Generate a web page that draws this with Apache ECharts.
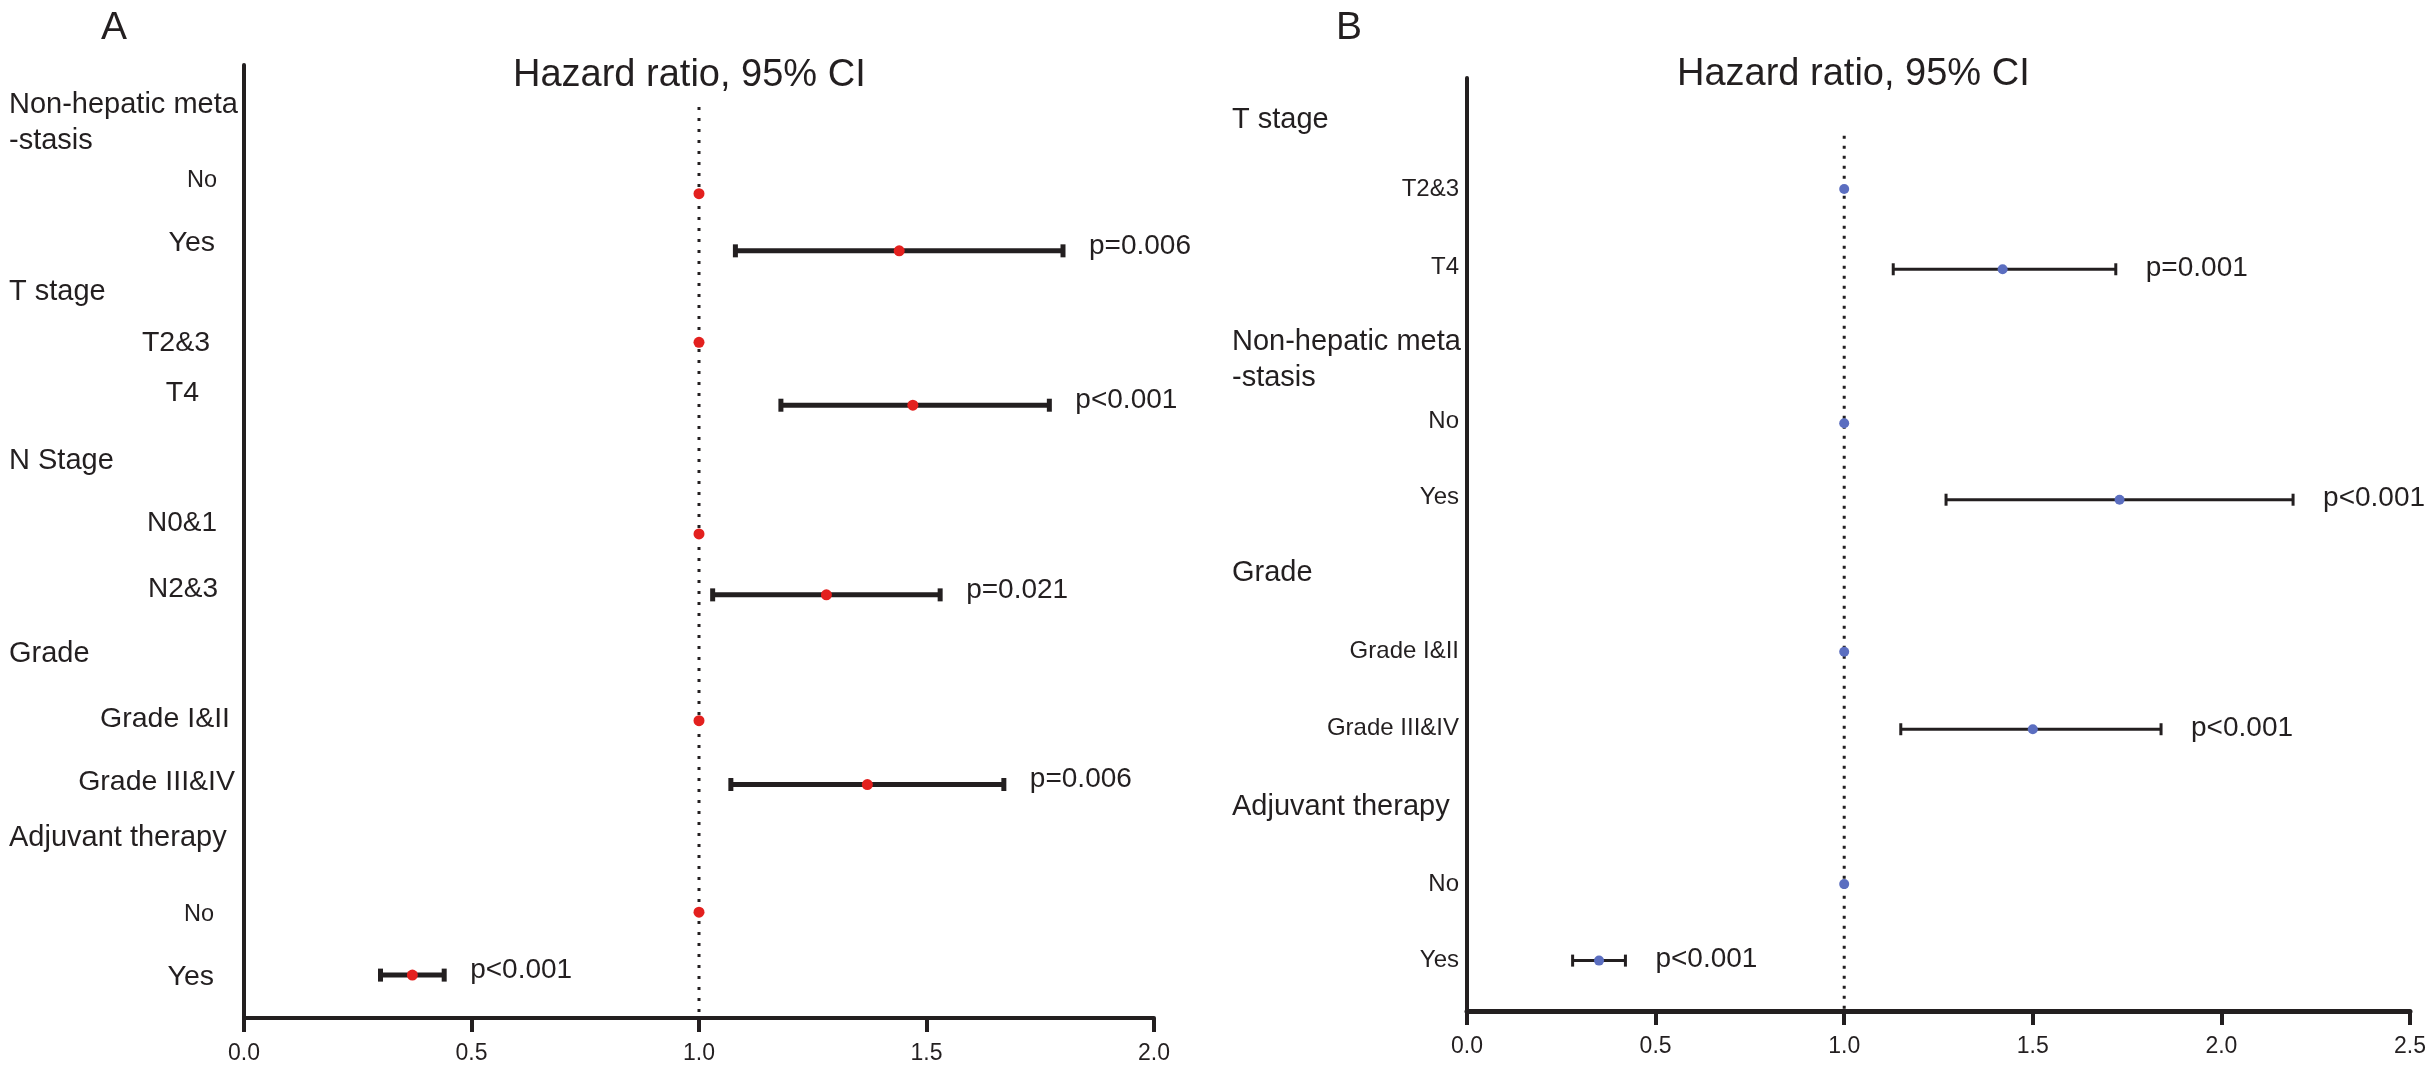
<!DOCTYPE html>
<html lang="en">
<head>
<meta charset="UTF-8">
<title>Hazard ratio, 95% CI</title>
<style>
  html, body { margin: 0; padding: 0; background: #fff; }
  #main { width: 2432px; height: 1073px; }
</style>
</head>
<body>
<div id="main"></div>
<script src="https://cdn.jsdelivr.net/npm/echarts@6/dist/echarts.min.js"></script>
<script>
// ---- panel A data ----
var labelsA = ['Non-hepatic meta\n-stasis', 'No', 'Yes', 'T stage', 'T2&3', 'T4', 'N Stage', 'N0&1', 'N2&3',
    'Grade', 'Grade I&II', 'Grade III&IV', 'Adjuvant therapy', 'No', 'Yes'];
var headerA = [1, 0, 0, 1, 0, 0, 1, 0, 0, 1, 0, 0, 1, 0, 0];
var labelRowA = [6.1, 12.1, 18.7, 23.8, 29.2, 34.4, 41.6, 48.1, 55.0, 61.8, 68.6, 75.3, 81.1, 89.1, 95.7];
var rowA = [13.5, 19.5, 29.1, 35.7, 49.2, 55.6, 68.8, 75.5, 88.9, 95.5];
var hrA = [1, 1.44, 1, 1.47, 1, 1.28, 1, 1.37, 1, 0.37];
var lowA = [null, 1.08, null, 1.18, null, 1.03, null, 1.07, null, 0.30];
var highA = [null, 1.80, null, 1.77, null, 1.53, null, 1.67, null, 0.44];
var pA = ['', 'p=0.006', '', 'p<0.001', '', 'p=0.021', '', 'p=0.006', '', 'p<0.001'];
var refStartA = 4.4;

// ---- panel B data ----
var labelsB = ['T stage', 'T2&3', 'T4', 'Non-hepatic meta\n-stasis', 'No', 'Yes', 'Grade', 'Grade I&II',
    'Grade III&IV', 'Adjuvant therapy', 'No', 'Yes'];
var headerB = [1, 0, 0, 1, 0, 0, 1, 0, 0, 1, 0, 0];
var labelRowB = [4.5, 11.9, 20.3, 30.2, 36.8, 45.0, 53.1, 61.5, 69.7, 78.1, 86.4, 94.6];
var rowB = [11.9, 20.5, 37.0, 45.2, 61.5, 69.8, 86.4, 94.6];
var hrB = [1, 1.42, 1, 1.73, 1, 1.50, 1, 0.35];
var lowB = [null, 1.13, null, 1.27, null, 1.15, null, 0.28];
var highB = [null, 1.72, null, 2.19, null, 1.84, null, 0.42];
var pB = ['', 'p=0.001', '', 'p<0.001', '', 'p<0.001', '', 'p<0.001'];
var refStartB = 6.2;

var ticksA = [0, 0.5, 1.0, 1.5, 2.0];
var ticksB = [0, 0.5, 1.0, 1.5, 2.0, 2.5];

// ---- styles ----
var ink = '#231f20';
var fontFam = '"Liberation Sans", Arial, sans-serif';
// distance of each sub label's right edge from the y axis (panel A is a bit uneven)
var subGapA = [0, 27, 29, 0, 34, 45, 0, 27, 26, 0, 14, 9, 0, 30, 30];
var subSizeA = [29, 23.5, 28.5, 29, 28.5, 28.5, 29, 28, 28, 29, 28.5, 28.5, 29, 23.5, 28.5];

var chart = echarts.init(document.getElementById('main'));

function ciData(low, high, rows, p) {
    var out = [];
    for (var i = 0; i < low.length; i++) {
        if (low[i] != null) out.push([low[i], high[i], rows[i], p[i]]);
    }
    return out;
}

function pointData(hr, rows) {
    return hr.map(function (v, i) { return [v, rows[i]]; });
}

function ciRenderer(st) {
    return function (params, api) {
        var y = api.value(2);
        var lo = api.coord([api.value(0), y]);
        var hi = api.coord([api.value(1), y]);
        return {
            type: 'group',
            children: [
                { type: 'line', shape: { x1: lo[0], y1: lo[1], x2: hi[0], y2: hi[1] },
                  style: { stroke: ink, lineWidth: st.lw } },
                { type: 'rect', shape: { x: lo[0] - st.capW / 2, y: lo[1] - st.capH / 2, width: st.capW, height: st.capH },
                  style: { fill: ink } },
                { type: 'rect', shape: { x: hi[0] - st.capW / 2, y: hi[1] - st.capH / 2, width: st.capW, height: st.capH },
                  style: { fill: ink } },
                { type: 'text', x: hi[0] + st.pGap, y: hi[1] + st.pDy,
                  style: { text: api.value(3), fill: ink, font: '28px ' + fontFam, align: 'left', verticalAlign: 'middle' } }
            ]
        };
    };
}

function xAxisOf(grid, max, ticks, lw) {
    return {
        type: 'value', gridIndex: grid, min: 0, max: max, interval: 0.5,
        axisLine: { onZero: false, lineStyle: { color: ink, width: lw } },
        axisTick: { length: 14, lineStyle: { color: ink, width: 4 } },
        axisLabel: { margin: 24, color: ink, fontSize: 23, fontFamily: fontFam,
            formatter: function (v) { return ticks.indexOf(v) >= 0 ? v.toFixed(1) : ''; } },
        splitLine: { show: false }
    };
}

function yAxisOf(grid) {
    return {
        type: 'value', gridIndex: grid, min: 0, max: 100, inverse: true,
        axisLine: { show: true, lineStyle: { color: ink, width: 4 } },
        axisTick: { show: false }, axisLabel: { show: false }, splitLine: { show: false }
    };
}

var option = {
    backgroundColor: '#fff',
    animation: false,
    grid: [
        { left: 244, top: 65, width: 910, height: 953, containLabel: false },
        { left: 1467, top: 78, width: 943, height: 933, containLabel: false }
    ],
    xAxis: [xAxisOf(0, 2, ticksA, 4), xAxisOf(1, 2.5, ticksB, 5)],
    yAxis: [yAxisOf(0), yAxisOf(1)],
    title: [
        { text: 'A', left: 96, top: 4, textStyle: { fontSize: 39, fontWeight: 'normal', color: ink, fontFamily: fontFam } },
        { text: 'B', left: 1331, top: 4, textStyle: { fontSize: 39, fontWeight: 'normal', color: ink, fontFamily: fontFam } },
        { text: 'Hazard ratio, 95% CI', left: 508, top: 52, textStyle: { fontSize: 38, fontWeight: 'normal', color: ink, fontFamily: fontFam } },
        { text: 'Hazard ratio, 95% CI', left: 1672, top: 51, textStyle: { fontSize: 38, fontWeight: 'normal', color: ink, fontFamily: fontFam } }
    ],
    series: [
        { type: 'line', xAxisIndex: 0, yAxisIndex: 0, data: [[1, refStartA], [1, 100]], symbol: 'none', silent: true,
          lineStyle: { color: ink, width: 3, type: [3, 8] } },
        { type: 'line', xAxisIndex: 1, yAxisIndex: 1, data: [[1, refStartB], [1, 100]], symbol: 'none', silent: true,
          lineStyle: { color: ink, width: 3, type: [3, 7] } },
        { type: 'custom', xAxisIndex: 0, yAxisIndex: 0, encode: { x: [0, 1], y: 2 },
          renderItem: ciRenderer({ lw: 5, capW: 5, capH: 13, pGap: 26, pDy: -5 }),
          data: ciData(lowA, highA, rowA, pA) },
        { type: 'custom', xAxisIndex: 1, yAxisIndex: 1, encode: { x: [0, 1], y: 2 },
          renderItem: ciRenderer({ lw: 3, capW: 3, capH: 12, pGap: 30, pDy: -1 }),
          data: ciData(lowB, highB, rowB, pB) },
        { type: 'scatter', xAxisIndex: 0, yAxisIndex: 0, symbolSize: 11, z: 5,
          itemStyle: { color: '#e3201e', opacity: 1 }, data: pointData(hrA, rowA) },
        { type: 'scatter', xAxisIndex: 1, yAxisIndex: 1, symbolSize: 10, z: 5,
          itemStyle: { color: '#5b6ec0', opacity: 1 }, data: pointData(hrB, rowB) }
    ]
};
chart.setOption(option);

// row labels, placed through the axes
function rowLabels(grid, labels, header, rows, gaps, sizes) {
    var out = [];
    labels.forEach(function (txt, i) {
        var pt = chart.convertToPixel({ gridIndex: grid }, [0, rows[i]]);
        var hdr = header[i] === 1;
        out.push({
            type: 'text',
            x: hdr ? pt[0] - 235 : pt[0] - gaps[i],
            y: pt[1],
            style: {
                text: txt, fill: ink, align: hdr ? 'left' : 'right', verticalAlign: 'middle',
                font: sizes[i] + 'px ' + fontFam, lineHeight: 36
            }
        });
    });
    return out;
}

var gapsB = labelsB.map(function () { return 8; });
var sizesB = headerB.map(function (h) { return h ? 29 : 24; });

chart.setOption({
    graphic: rowLabels(0, labelsA, headerA, labelRowA, subGapA, subSizeA)
        .concat(rowLabels(1, labelsB, headerB, labelRowB, gapsB, sizesB))
});
</script>
</body>
</html>
